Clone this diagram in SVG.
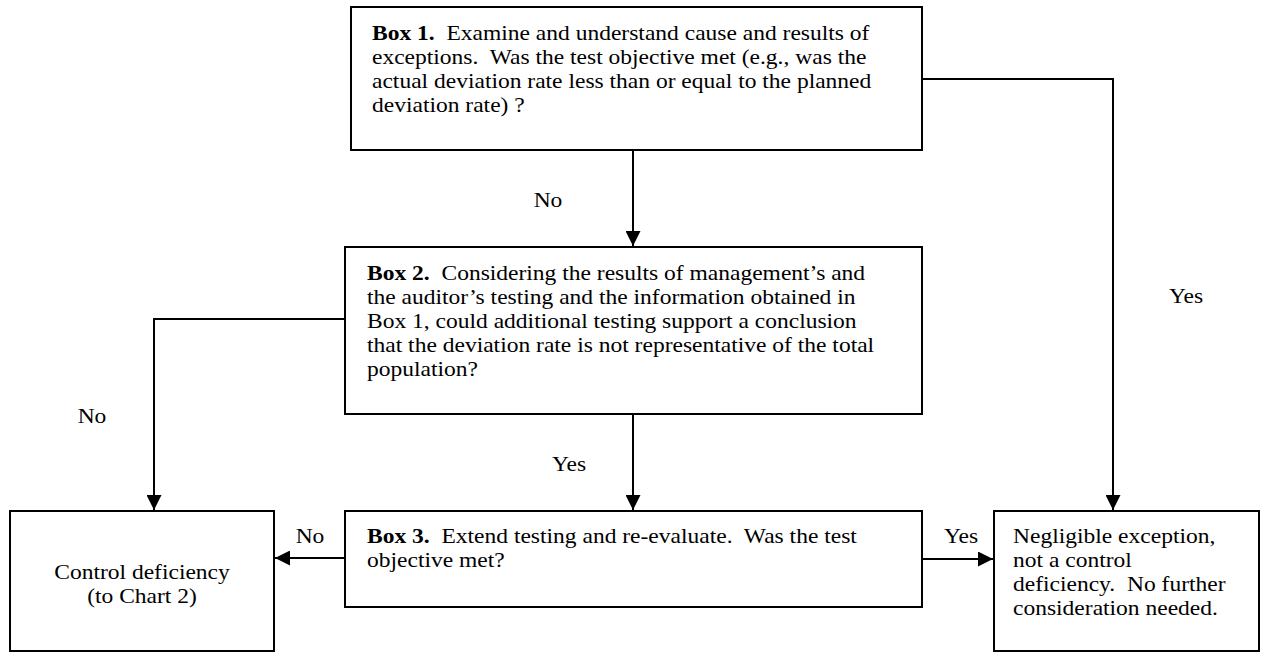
<svg xmlns="http://www.w3.org/2000/svg" width="1262" height="653" viewBox="0 0 1262 653" xml:space="preserve">
<style>
.box{fill:#fff;stroke:#000;stroke-width:2}
text{font-family:'Liberation Serif','Tinos','Times New Roman','DejaVu Serif',serif;font-size:21px;fill:#000;white-space:pre}
.b{font-weight:bold}
.c{fill:none;stroke:#000;stroke-width:2}
</style>
<defs>
<marker id="ah" viewBox="0 0 10 10" refX="10" refY="5" markerWidth="15" markerHeight="15" markerUnits="userSpaceOnUse" orient="auto">
<path d="M0,0 L10,5 L0,10 z" fill="#000"/>
</marker>
</defs>
<rect width="1262" height="653" fill="#fff"/>
<g id="connectors">
<line class="c" x1="633" y1="150" x2="633" y2="246" marker-end="url(#ah)"/>
<line class="c" x1="633" y1="414" x2="633" y2="510" marker-end="url(#ah)"/>
<polyline class="c" points="922,79 1113,79 1113,510" marker-end="url(#ah)"/>
<polyline class="c" points="345,319 154,319 154,510" marker-end="url(#ah)"/>
<line class="c" x1="345" y1="558" x2="275" y2="558" marker-end="url(#ah)"/>
<line class="c" x1="922" y1="559" x2="993" y2="559" marker-end="url(#ah)"/>
<text transform="translate(548 207) scale(1.12 1)" text-anchor="middle">No</text>
<text transform="translate(1186 303) scale(1.12 1)" text-anchor="middle">Yes</text>
<text transform="translate(92 423) scale(1.12 1)" text-anchor="middle">No</text>
<text transform="translate(569 471) scale(1.12 1)" text-anchor="middle">Yes</text>
<text transform="translate(310 543) scale(1.12 1)" text-anchor="middle">No</text>
<text transform="translate(961 543) scale(1.12 1)" text-anchor="middle">Yes</text>
</g>
<g id="box1">
<rect class="box" x="351" y="7" width="571" height="143"/>
<text transform="translate(372 40) scale(1.12 1)"><tspan class="b">Box 1.</tspan>  Examine and understand cause and results of</text>
<text transform="translate(372 64) scale(1.12 1)">exceptions.  Was the test objective met (e.g., was the</text>
<text transform="translate(372 88) scale(1.12 1)">actual deviation rate less than or equal to the planned</text>
<text transform="translate(372 112) scale(1.12 1)">deviation rate) ?</text>
</g>
<g id="box2">
<rect class="box" x="345" y="247" width="577" height="167"/>
<text transform="translate(367 280) scale(1.12 1)"><tspan class="b">Box 2.</tspan>  Considering the results of management’s and</text>
<text transform="translate(367 304) scale(1.12 1)">the auditor’s testing and the information obtained in</text>
<text transform="translate(367 328) scale(1.12 1)">Box 1, could additional testing support a conclusion</text>
<text transform="translate(367 352) scale(1.12 1)">that the deviation rate is not representative of the total</text>
<text transform="translate(367 376) scale(1.12 1)">population?</text>
</g>
<g id="box3">
<rect class="box" x="345" y="511" width="577" height="96"/>
<text transform="translate(367 543) scale(1.12 1)"><tspan class="b">Box 3.</tspan>  Extend testing and re-evaluate.  Was the test</text>
<text transform="translate(367 567) scale(1.12 1)">objective met?</text>
</g>
<g id="control">
<rect class="box" x="10" y="511" width="264" height="140"/>
<text transform="translate(142 579) scale(1.12 1)" text-anchor="middle">Control deficiency</text>
<text transform="translate(142 603) scale(1.12 1)" text-anchor="middle">(to Chart 2)</text>
</g>
<g id="negligible">
<rect class="box" x="994" y="511" width="265" height="140"/>
<text transform="translate(1013 543) scale(1.12 1)">Negligible exception,</text>
<text transform="translate(1013 567) scale(1.12 1)">not a control</text>
<text transform="translate(1013 591) scale(1.12 1)">deficiency.  No further</text>
<text transform="translate(1013 615) scale(1.12 1)">consideration needed.</text>
</g>
</svg>
